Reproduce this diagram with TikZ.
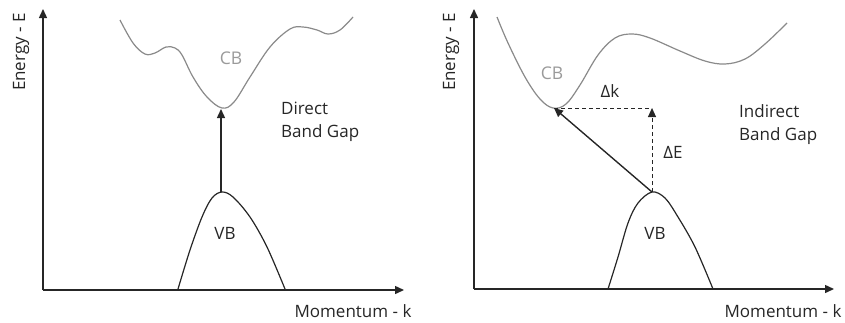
\documentclass[tikz,border=0pt]{standalone}
\usepackage{fontspec}
\setmainfont{Open Sans}
\usetikzlibrary{arrows.meta}
\definecolor{ink}{HTML}{262626}
\definecolor{cbline}{HTML}{8A8A8A}
\definecolor{cbtext}{HTML}{9A9A9A}
\tikzset{
  axis/.style={draw=ink, line width=1.4pt, -{Triangle[width=8pt,length=9pt]}},
  band/.style={draw=ink, line width=1.2pt},
  cband/.style={draw=cbline, line width=1.2pt},
  trans/.style={draw=ink, line width=1.4pt, -{Triangle[width=8pt,length=9pt]}},
  dtrans/.style={draw=ink, line width=1pt, dash pattern=on 4pt off 3pt},
  lbl/.style={font=\fontsize{17}{20}\selectfont, text=ink, inner sep=0pt},
  gl/.style={font=\fontsize{17.5}{20}\selectfont, text=cbtext, inner sep=0pt},
  note/.style={font=\fontsize{17}{23}\selectfont, text=ink, inner sep=0pt, align=left, anchor=west}
}
\begin{document}
\begin{tikzpicture}[x=1pt,y=-1pt]
\useasboundingbox (0,0) rectangle (845,322);
% ---------- left panel ----------
\coordinate (Lo) at (43,290);
\coordinate (Ly) at (43,9);
\coordinate (Lx) at (404,290);
\draw[axis] (Lo) -- (Ly);
\draw[axis] (Lo) -- (Lx);
\node[lbl, rotate=90] (LE) at (21,52) {Energy - E};
\node[lbl] (LM) at (353,311) {Momentum - k};
\draw[cband] plot[smooth, tension=0.6] coordinates {(120,20) (133,43) (145,54) (155,53) (166,47) (175,48) (182,55) (193,77) (207,97) (222,108) (234,102) (250,77) (270,47) (290,29) (303,27) (317,30) (328,34) (340,30) (353,17)};
\draw[band] plot[smooth, tension=0.55] coordinates {(178,289) (190,250) (202,217) (212,198) (222,192) (233,197) (250,217) (267,247) (285,289)};
\coordinate (Lvb) at (221,192);
\coordinate (Lcb) at (221,109);
\draw[trans] (Lvb) -- (Lcb);
\node[gl] (LCB) at (231,58) {CB};
\node[lbl] (LVB) at (225,233) {VB};
\node[note] (LD) at (281,122) {Direct\\Band Gap};
% ---------- right panel ----------
\coordinate (Ro) at (474,289);
\coordinate (Ry) at (474,9);
\coordinate (Rx) at (834,289);
\draw[axis] (Ro) -- (Ry);
\draw[axis] (Ro) -- (Rx);
\node[lbl, rotate=90] (RE) at (451,52) {Energy - E};
\node[lbl] (RM) at (783,311) {Momentum - k};
\draw[cband] plot[smooth, tension=0.6] coordinates {(497,17) (508,43) (525,77) (540,99) (553,108) (566,104) (580,85) (598,55) (615,38) (632,34) (650,38) (680,51) (705,61) (725,64) (745,59) (765,44) (787,23)};
\draw[band] plot[smooth, tension=0.55] coordinates {(608,289) (618,257) (628,223) (638,203) (652,192) (665,198) (678,217) (695,247) (713,289)};
\coordinate (Rvb) at (652,192);
\coordinate (Rcb) at (554,108);
\coordinate (Rc) at (652,108);
\draw[dtrans] (Rcb) -- (Rc);
\draw[dtrans, -{Triangle[width=8pt,length=9pt]}] (Rvb) -- (Rc);
\draw[trans] (Rvb) -- (Rcb);
\node[gl] (RCB) at (552,73) {CB};
\node[lbl] (Rdk) at (610,91) {Δk};
\node[lbl] (RdE) at (673,152) {ΔE};
\node[lbl] (RVB) at (655,233) {VB};
\node[note] (RI) at (739,125) {Indirect\\Band Gap};
\end{tikzpicture}
\end{document}
